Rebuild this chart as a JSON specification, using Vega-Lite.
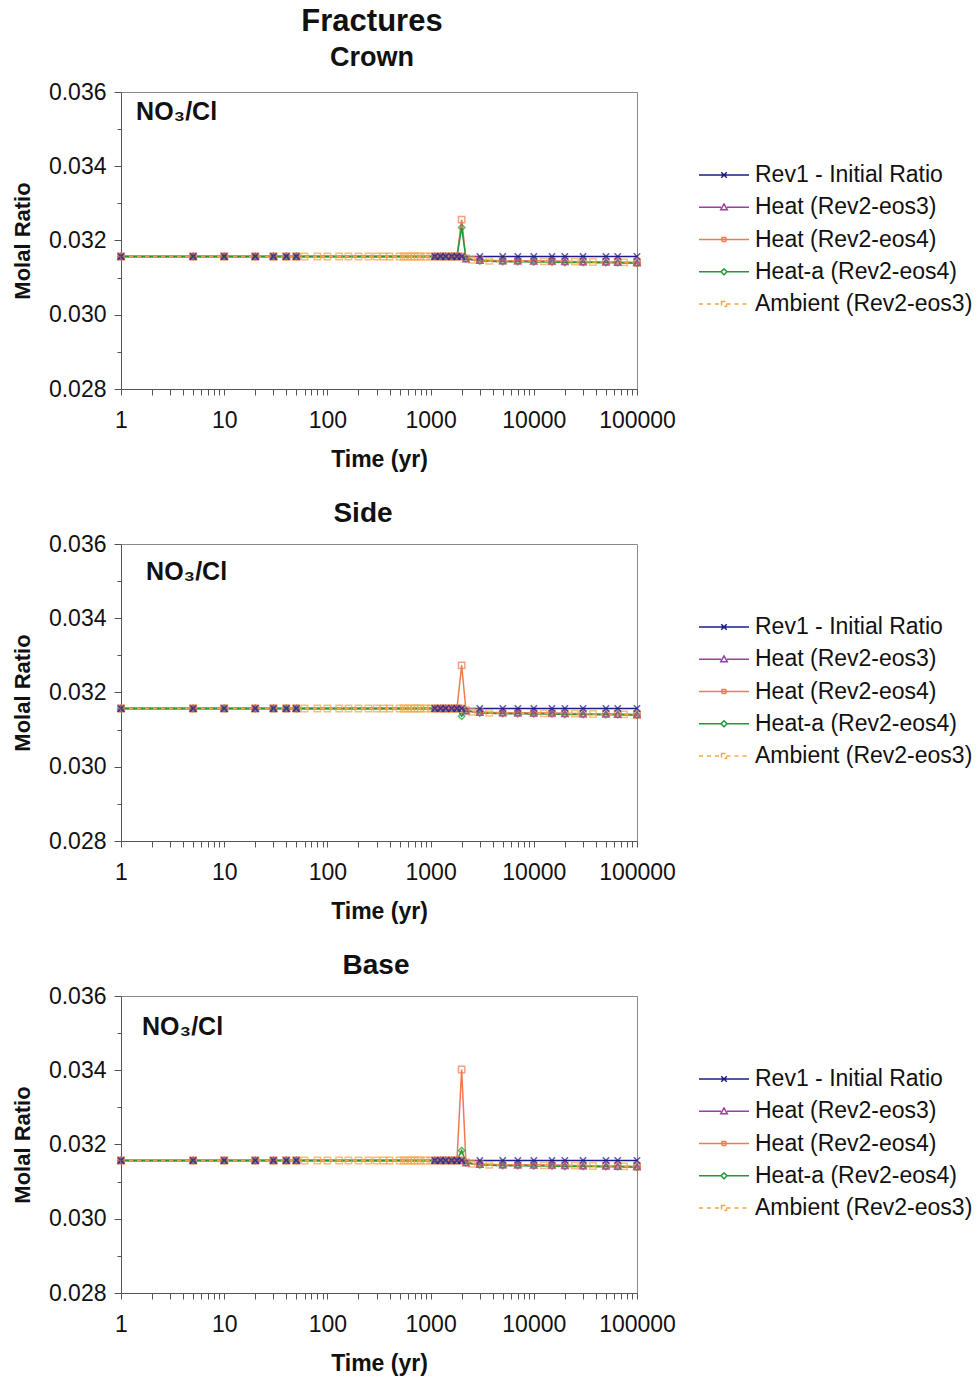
{
"$schema": "https://vega.github.io/schema/vega-lite/v6.json",
"background": "white",
"padding": {"left": 10, "top": 5, "right": 0, "bottom": 4},
"config": {
  "font": "Liberation Sans",
  "view": {"stroke": "#8a8a8a", "strokeWidth": 1},
  "axis": {"labelFont": "Liberation Sans", "titleFont": "Liberation Sans", "labelColor": "#111", "titleColor": "#111", "domainColor": "#555", "tickColor": "#555", "titleFontWeight": "bold"},
  "axisX": {"values": [1,2,3,4,5,6,7,8,9,10,20,30,40,50,60,70,80,90,100,200,300,400,500,600,700,800,900,1000,2000,3000,4000,5000,6000,7000,8000,9000,10000,20000,30000,40000,50000,60000,70000,80000,90000,100000],
     "labelExpr": "(datum.value==1||datum.value==10||datum.value==100||datum.value==1000||datum.value==10000||datum.value==100000) ? format(datum.value,'d') : ''",
     "labelOverlap": false, "labelFlush": false, "grid": false, "tickSize": 6, "labelPadding": 14, "titlePadding": 16, "labelFontSize": 23, "titleFontSize": 23},
  "axisY": {"values": [0.028,0.0285,0.029,0.0295,0.03,0.0305,0.031,0.0315,0.032,0.0325,0.033,0.0335,0.034,0.0345,0.035,0.0355,0.036],
     "labelExpr": "round(datum.value*2000) % 4 == 0 ? format(datum.value,'.3f') : ''", "labelOverlap": false,
     "grid": true, "gridColor": "#555", "gridOpacity": {"condition": {"test": "round(datum.value*2000) % 4 == 0", "value": 1}, "value": 0},
     "tickSize": {"condition": {"test": "round(datum.value*2000) % 4 == 0", "value": 7}, "value": 4}, "labelPadding": 8, "titlePadding": 14, "labelFontSize": 23, "titleFontSize": 22},
  "point": {"filled": false, "strokeWidth": 1.5, "size": 40},
  "title": {"font": "Liberation Sans", "fontWeight": "bold", "color": "#111", "subtitleFont": "Liberation Sans", "subtitleFontWeight": "bold", "subtitleColor": "#111", "anchor": "middle"},
  "legend": {"symbolSize": 2500, "clipHeight": 30, "rowPadding": 2.25, "labelFontSize": 23, "labelFont": "Liberation Sans", "labelColor": "#111", "symbolStrokeWidth": 1.5, "labelOffset": 5, "labelLimit": 400}
},
"datasets": {
  "d": [
    {"s":"Rev1 - Initial Ratio","t":1,"v":0.03157},{"s":"Rev1 - Initial Ratio","t":5,"v":0.03157},{"s":"Rev1 - Initial Ratio","t":10,"v":0.03157},{"s":"Rev1 - Initial Ratio","t":20,"v":0.03157},{"s":"Rev1 - Initial Ratio","t":30,"v":0.03157},{"s":"Rev1 - Initial Ratio","t":40,"v":0.03157},{"s":"Rev1 - Initial Ratio","t":50,"v":0.03157},
    {"s":"Rev1 - Initial Ratio","t":1100,"v":0.03157},{"s":"Rev1 - Initial Ratio","t":1250,"v":0.03157},{"s":"Rev1 - Initial Ratio","t":1400,"v":0.03157},{"s":"Rev1 - Initial Ratio","t":1600,"v":0.03157},{"s":"Rev1 - Initial Ratio","t":1800,"v":0.03157},{"s":"Rev1 - Initial Ratio","t":2000,"v":0.03157},
    {"s":"Rev1 - Initial Ratio","t":3000,"v":0.03157},{"s":"Rev1 - Initial Ratio","t":5000,"v":0.03157},{"s":"Rev1 - Initial Ratio","t":7000,"v":0.03157},{"s":"Rev1 - Initial Ratio","t":10000,"v":0.03157},{"s":"Rev1 - Initial Ratio","t":15000,"v":0.03157},{"s":"Rev1 - Initial Ratio","t":20000,"v":0.03157},{"s":"Rev1 - Initial Ratio","t":30000,"v":0.03157},{"s":"Rev1 - Initial Ratio","t":50000,"v":0.03157},{"s":"Rev1 - Initial Ratio","t":65000,"v":0.03157},{"s":"Rev1 - Initial Ratio","t":100000,"v":0.03157},

    {"s":"Heat (Rev2-eos3)","t":1,"v":0.03157},{"s":"Heat (Rev2-eos3)","t":5,"v":0.03157},{"s":"Heat (Rev2-eos3)","t":10,"v":0.03157},{"s":"Heat (Rev2-eos3)","t":20,"v":0.03157},{"s":"Heat (Rev2-eos3)","t":30,"v":0.03157},{"s":"Heat (Rev2-eos3)","t":40,"v":0.03157},{"s":"Heat (Rev2-eos3)","t":50,"v":0.03157},
    {"s":"Heat (Rev2-eos3)","t":1100,"v":0.03157},{"s":"Heat (Rev2-eos3)","t":1250,"v":0.03157},{"s":"Heat (Rev2-eos3)","t":1400,"v":0.03157},{"s":"Heat (Rev2-eos3)","t":1600,"v":0.03157},{"s":"Heat (Rev2-eos3)","t":1800,"v":0.03157},{"s":"Heat (Rev2-eos3)","t":2000,"v":0.03157},
    {"s":"Heat (Rev2-eos3)","t":2200,"v":0.0315},{"s":"Heat (Rev2-eos3)","t":3000,"v":0.03146},{"s":"Heat (Rev2-eos3)","t":5000,"v":0.03145},{"s":"Heat (Rev2-eos3)","t":7000,"v":0.03145},{"s":"Heat (Rev2-eos3)","t":10000,"v":0.03144},{"s":"Heat (Rev2-eos3)","t":15000,"v":0.03144},{"s":"Heat (Rev2-eos3)","t":20000,"v":0.03143},{"s":"Heat (Rev2-eos3)","t":30000,"v":0.03142},{"s":"Heat (Rev2-eos3)","t":50000,"v":0.03142},{"s":"Heat (Rev2-eos3)","t":65000,"v":0.03141},{"s":"Heat (Rev2-eos3)","t":100000,"v":0.0314},

    {"s":"Heat (Rev2-eos4)","t":1,"v":0.03157},{"s":"Heat (Rev2-eos4)","t":5,"v":0.03157},{"s":"Heat (Rev2-eos4)","t":10,"v":0.03157},{"s":"Heat (Rev2-eos4)","t":20,"v":0.03157},{"s":"Heat (Rev2-eos4)","t":30,"v":0.03157},{"s":"Heat (Rev2-eos4)","t":40,"v":0.03157},{"s":"Heat (Rev2-eos4)","t":50,"v":0.03157},
    {"s":"Heat (Rev2-eos4)","t":1100,"v":0.03157},{"s":"Heat (Rev2-eos4)","t":1250,"v":0.03157},{"s":"Heat (Rev2-eos4)","t":1400,"v":0.03157},{"s":"Heat (Rev2-eos4)","t":1600,"v":0.03157},{"s":"Heat (Rev2-eos4)","t":1800,"v":0.03157},
    {"s":"Heat (Rev2-eos4)","t":2000,"v":0.03256,"p":"Crown"},{"s":"Heat (Rev2-eos4)","t":2000,"v":0.03273,"p":"Side"},{"s":"Heat (Rev2-eos4)","t":2000,"v":0.03402,"p":"Base"},
    {"s":"Heat (Rev2-eos4)","t":2200,"v":0.03152},{"s":"Heat (Rev2-eos4)","t":3000,"v":0.03147},{"s":"Heat (Rev2-eos4)","t":5000,"v":0.03146},{"s":"Heat (Rev2-eos4)","t":7000,"v":0.03145},{"s":"Heat (Rev2-eos4)","t":10000,"v":0.03145},{"s":"Heat (Rev2-eos4)","t":15000,"v":0.03144},{"s":"Heat (Rev2-eos4)","t":20000,"v":0.03144},{"s":"Heat (Rev2-eos4)","t":30000,"v":0.03143},{"s":"Heat (Rev2-eos4)","t":50000,"v":0.03142},{"s":"Heat (Rev2-eos4)","t":65000,"v":0.03142},{"s":"Heat (Rev2-eos4)","t":100000,"v":0.03141},

    {"s":"Heat-a (Rev2-eos4)","t":1,"v":0.03157},{"s":"Heat-a (Rev2-eos4)","t":5,"v":0.03157},{"s":"Heat-a (Rev2-eos4)","t":10,"v":0.03157},{"s":"Heat-a (Rev2-eos4)","t":20,"v":0.03157},{"s":"Heat-a (Rev2-eos4)","t":30,"v":0.03157},{"s":"Heat-a (Rev2-eos4)","t":40,"v":0.03157},{"s":"Heat-a (Rev2-eos4)","t":50,"v":0.03157},
    {"s":"Heat-a (Rev2-eos4)","t":1100,"v":0.03157},{"s":"Heat-a (Rev2-eos4)","t":1250,"v":0.03157},{"s":"Heat-a (Rev2-eos4)","t":1400,"v":0.03157},{"s":"Heat-a (Rev2-eos4)","t":1600,"v":0.03157},{"s":"Heat-a (Rev2-eos4)","t":1800,"v":0.03157},
    {"s":"Heat-a (Rev2-eos4)","t":2000,"v":0.03235,"p":"Crown"},{"s":"Heat-a (Rev2-eos4)","t":2000,"v":0.03136,"p":"Side"},{"s":"Heat-a (Rev2-eos4)","t":2000,"v":0.03184,"p":"Base"},
    {"s":"Heat-a (Rev2-eos4)","t":2200,"v":0.03151},{"s":"Heat-a (Rev2-eos4)","t":3000,"v":0.03145},{"s":"Heat-a (Rev2-eos4)","t":5000,"v":0.03143},{"s":"Heat-a (Rev2-eos4)","t":7000,"v":0.03143},{"s":"Heat-a (Rev2-eos4)","t":10000,"v":0.03142},{"s":"Heat-a (Rev2-eos4)","t":15000,"v":0.03142},{"s":"Heat-a (Rev2-eos4)","t":20000,"v":0.03141},{"s":"Heat-a (Rev2-eos4)","t":30000,"v":0.03141},{"s":"Heat-a (Rev2-eos4)","t":50000,"v":0.0314},{"s":"Heat-a (Rev2-eos4)","t":65000,"v":0.0314},{"s":"Heat-a (Rev2-eos4)","t":100000,"v":0.03139},

    {"s":"Ambient (Rev2-eos3)","t":1,"v":0.03157},{"s":"Ambient (Rev2-eos3)","t":5,"v":0.03157},{"s":"Ambient (Rev2-eos3)","t":10,"v":0.03157},{"s":"Ambient (Rev2-eos3)","t":20,"v":0.03157},{"s":"Ambient (Rev2-eos3)","t":30,"v":0.03157},{"s":"Ambient (Rev2-eos3)","t":40,"v":0.03157},{"s":"Ambient (Rev2-eos3)","t":50,"v":0.03157},
    {"s":"Ambient (Rev2-eos3)","t":60,"v":0.03157},{"s":"Ambient (Rev2-eos3)","t":80,"v":0.03157},{"s":"Ambient (Rev2-eos3)","t":100,"v":0.03157},{"s":"Ambient (Rev2-eos3)","t":130,"v":0.03157},{"s":"Ambient (Rev2-eos3)","t":160,"v":0.03157},{"s":"Ambient (Rev2-eos3)","t":200,"v":0.03157},{"s":"Ambient (Rev2-eos3)","t":250,"v":0.03157},{"s":"Ambient (Rev2-eos3)","t":300,"v":0.03157},{"s":"Ambient (Rev2-eos3)","t":350,"v":0.03157},{"s":"Ambient (Rev2-eos3)","t":400,"v":0.03157},
    {"s":"Ambient (Rev2-eos3)","t":500,"v":0.03157},{"s":"Ambient (Rev2-eos3)","t":550,"v":0.03157},{"s":"Ambient (Rev2-eos3)","t":600,"v":0.03157},{"s":"Ambient (Rev2-eos3)","t":650,"v":0.03157},{"s":"Ambient (Rev2-eos3)","t":700,"v":0.03157},{"s":"Ambient (Rev2-eos3)","t":750,"v":0.03157},{"s":"Ambient (Rev2-eos3)","t":800,"v":0.03157},{"s":"Ambient (Rev2-eos3)","t":900,"v":0.03157},{"s":"Ambient (Rev2-eos3)","t":1000,"v":0.03157},
    {"s":"Ambient (Rev2-eos3)","t":1200,"v":0.03157},{"s":"Ambient (Rev2-eos3)","t":1400,"v":0.03157},{"s":"Ambient (Rev2-eos3)","t":1600,"v":0.03157},{"s":"Ambient (Rev2-eos3)","t":1800,"v":0.03157},{"s":"Ambient (Rev2-eos3)","t":2000,"v":0.03157},
    {"s":"Ambient (Rev2-eos3)","t":2500,"v":0.03148},{"s":"Ambient (Rev2-eos3)","t":3700,"v":0.03145},{"s":"Ambient (Rev2-eos3)","t":12500,"v":0.03144},{"s":"Ambient (Rev2-eos3)","t":25000,"v":0.03143},{"s":"Ambient (Rev2-eos3)","t":37500,"v":0.03142},{"s":"Ambient (Rev2-eos3)","t":75000,"v":0.03141},{"s":"Ambient (Rev2-eos3)","t":100000,"v":0.0314}
  ],
  "notes": [
    {"p":"Crown","t":1.4,"v":0.03546,"label":"NO₃/Cl"},
    {"p":"Side","t":1.75,"v":0.03525,"label":"NO₃/Cl"},
    {"p":"Base","t":1.6,"v":0.03517,"label":"NO₃/Cl"}
  ]
},
"spacing": 27,
"resolve": {"scale": {"color": "independent", "strokeDash": "independent"}, "legend": {"color": "independent"}},
"vconcat": [
 {
  "width": 516, "height": 297,
  "title": {"text": "Fractures", "subtitle": "Crown", "fontSize": 31, "subtitleFontSize": 27, "subtitlePadding": 7, "offset": 9, "dx": -7},
  "layer": [
   {"data": {"name": "d"}, "transform": [{"filter": "!datum.p || datum.p === 'Crown'"}],
    "mark": {"type": "line", "strokeWidth": 1.5},
    "encoding": {
     "x": {"field": "t", "type": "quantitative", "scale": {"type": "log", "domain": [1, 100000], "nice": false}, "axis": {"title": "Time (yr)"}},
     "y": {"field": "v", "type": "quantitative", "scale": {"domain": [0.028, 0.036], "nice": false, "zero": false}, "axis": {"title": "Molal Ratio"}},
     "color": {"field": "s", "type": "nominal", "scale": {"domain": ["Rev1 - Initial Ratio","Heat (Rev2-eos3)","Heat (Rev2-eos4)","Heat-a (Rev2-eos4)","Ambient (Rev2-eos3)"], "range": ["#1c1c8a","#a03aa0","#f07a50","#1f9a3a","#f5a545"]},
       "legend": {"title": null, "orient": "none", "legendX": 577, "legendY": 68,
         "encode": {"symbols": {"update": {"fill": {"value": "transparent"},
           "shape": {"signal": "datum.value === 'Rev1 - Initial Ratio' ? 'M-1,0L1,0M-0.11,-0.11L0.11,0.11M-0.11,0.11L0.11,-0.11' : datum.value === 'Heat (Rev2-eos3)' ? 'M-1,0L-0.12,0M0.12,0L1,0M0,-0.13L0.13,0.1L-0.13,0.1Z' : datum.value === 'Heat (Rev2-eos4)' ? 'M-1,0L1,0M-0.08,-0.08L0.08,-0.08L0.08,0.08L-0.08,0.08Z' : datum.value === 'Heat-a (Rev2-eos4)' ? 'M-1,0L-0.12,0M0.12,0L1,0M0,-0.12L0.12,0L0,0.12L-0.12,0Z' : 'M-1,0L-0.1,0M0.1,0L1,0M-0.1,-0.1L0.1,-0.1L0.1,0.1L-0.1,0.1Z'"},
           "strokeDash": {"signal": "datum.value === 'Ambient (Rev2-eos3)' ? [4,4] : [1,0]"}}}}}},
     "strokeDash": {"field": "s", "type": "nominal", "scale": {"domain": ["Rev1 - Initial Ratio","Heat (Rev2-eos3)","Heat (Rev2-eos4)","Heat-a (Rev2-eos4)","Ambient (Rev2-eos3)"], "range": [[1,0],[1,0],[1,0],[1,0],[4,4]]}, "legend": null}
    }},
   {"data": {"name": "d"}, "transform": [{"filter": "datum.s === 'Ambient (Rev2-eos3)'"}], "mark": {"type": "point", "shape": "square", "color": "#f5a545"}, "encoding": {"x": {"field": "t", "type": "quantitative"}, "y": {"field": "v", "type": "quantitative"}}},
   {"data": {"name": "d"}, "transform": [{"filter": "datum.s === 'Heat-a (Rev2-eos4)' && (!datum.p || datum.p === 'Crown')"}], "mark": {"type": "point", "shape": "diamond", "color": "#1f9a3a"}, "encoding": {"x": {"field": "t", "type": "quantitative"}, "y": {"field": "v", "type": "quantitative"}}},
   {"data": {"name": "d"}, "transform": [{"filter": "datum.s === 'Heat (Rev2-eos4)' && (!datum.p || datum.p === 'Crown')"}], "mark": {"type": "point", "shape": "square", "color": "#f07a50"}, "encoding": {"x": {"field": "t", "type": "quantitative"}, "y": {"field": "v", "type": "quantitative"}}},
   {"data": {"name": "d"}, "transform": [{"filter": "datum.s === 'Heat (Rev2-eos3)'"}], "mark": {"type": "point", "shape": "triangle-up", "color": "#a03aa0"}, "encoding": {"x": {"field": "t", "type": "quantitative"}, "y": {"field": "v", "type": "quantitative"}}},
   {"data": {"name": "d"}, "transform": [{"filter": "datum.s === 'Rev1 - Initial Ratio'"}], "mark": {"type": "point", "shape": "M-1,-1L1,1M-1,1L1,-1", "color": "#1c1c8a"}, "encoding": {"x": {"field": "t", "type": "quantitative"}, "y": {"field": "v", "type": "quantitative"}}},
   {"data": {"name": "notes"}, "transform": [{"filter": "datum.p === 'Crown'"}],
    "mark": {"type": "text", "align": "left", "baseline": "middle", "fontSize": 25, "fontWeight": "bold", "font": "Liberation Sans", "color": "#111"},
    "encoding": {"x": {"field": "t", "type": "quantitative"}, "y": {"field": "v", "type": "quantitative"}, "text": {"field": "label"}}}
  ]
 },
 {
  "width": 516, "height": 297,
  "title": {"text": "Side", "fontSize": 28, "offset": 5, "dx": -16},
  "layer": [
   {"data": {"name": "d"}, "transform": [{"filter": "!datum.p || datum.p === 'Side'"}],
    "mark": {"type": "line", "strokeWidth": 1.5},
    "encoding": {
     "x": {"field": "t", "type": "quantitative", "scale": {"type": "log", "domain": [1, 100000], "nice": false}, "axis": {"title": "Time (yr)"}},
     "y": {"field": "v", "type": "quantitative", "scale": {"domain": [0.028, 0.036], "nice": false, "zero": false}, "axis": {"title": "Molal Ratio"}},
     "color": {"field": "s", "type": "nominal", "scale": {"domain": ["Rev1 - Initial Ratio","Heat (Rev2-eos3)","Heat (Rev2-eos4)","Heat-a (Rev2-eos4)","Ambient (Rev2-eos3)"], "range": ["#1c1c8a","#a03aa0","#f07a50","#1f9a3a","#f5a545"]},
       "legend": {"title": null, "orient": "none", "legendX": 577, "legendY": 68,
         "encode": {"symbols": {"update": {"fill": {"value": "transparent"},
           "shape": {"signal": "datum.value === 'Rev1 - Initial Ratio' ? 'M-1,0L1,0M-0.11,-0.11L0.11,0.11M-0.11,0.11L0.11,-0.11' : datum.value === 'Heat (Rev2-eos3)' ? 'M-1,0L-0.12,0M0.12,0L1,0M0,-0.13L0.13,0.1L-0.13,0.1Z' : datum.value === 'Heat (Rev2-eos4)' ? 'M-1,0L1,0M-0.08,-0.08L0.08,-0.08L0.08,0.08L-0.08,0.08Z' : datum.value === 'Heat-a (Rev2-eos4)' ? 'M-1,0L-0.12,0M0.12,0L1,0M0,-0.12L0.12,0L0,0.12L-0.12,0Z' : 'M-1,0L-0.1,0M0.1,0L1,0M-0.1,-0.1L0.1,-0.1L0.1,0.1L-0.1,0.1Z'"},
           "strokeDash": {"signal": "datum.value === 'Ambient (Rev2-eos3)' ? [4,4] : [1,0]"}}}}}},
     "strokeDash": {"field": "s", "type": "nominal", "scale": {"domain": ["Rev1 - Initial Ratio","Heat (Rev2-eos3)","Heat (Rev2-eos4)","Heat-a (Rev2-eos4)","Ambient (Rev2-eos3)"], "range": [[1,0],[1,0],[1,0],[1,0],[4,4]]}, "legend": null}
    }},
   {"data": {"name": "d"}, "transform": [{"filter": "datum.s === 'Ambient (Rev2-eos3)'"}], "mark": {"type": "point", "shape": "square", "color": "#f5a545"}, "encoding": {"x": {"field": "t", "type": "quantitative"}, "y": {"field": "v", "type": "quantitative"}}},
   {"data": {"name": "d"}, "transform": [{"filter": "datum.s === 'Heat-a (Rev2-eos4)' && (!datum.p || datum.p === 'Side')"}], "mark": {"type": "point", "shape": "diamond", "color": "#1f9a3a"}, "encoding": {"x": {"field": "t", "type": "quantitative"}, "y": {"field": "v", "type": "quantitative"}}},
   {"data": {"name": "d"}, "transform": [{"filter": "datum.s === 'Heat (Rev2-eos4)' && (!datum.p || datum.p === 'Side')"}], "mark": {"type": "point", "shape": "square", "color": "#f07a50"}, "encoding": {"x": {"field": "t", "type": "quantitative"}, "y": {"field": "v", "type": "quantitative"}}},
   {"data": {"name": "d"}, "transform": [{"filter": "datum.s === 'Heat (Rev2-eos3)'"}], "mark": {"type": "point", "shape": "triangle-up", "color": "#a03aa0"}, "encoding": {"x": {"field": "t", "type": "quantitative"}, "y": {"field": "v", "type": "quantitative"}}},
   {"data": {"name": "d"}, "transform": [{"filter": "datum.s === 'Rev1 - Initial Ratio'"}], "mark": {"type": "point", "shape": "M-1,-1L1,1M-1,1L1,-1", "color": "#1c1c8a"}, "encoding": {"x": {"field": "t", "type": "quantitative"}, "y": {"field": "v", "type": "quantitative"}}},
   {"data": {"name": "notes"}, "transform": [{"filter": "datum.p === 'Side'"}],
    "mark": {"type": "text", "align": "left", "baseline": "middle", "fontSize": 25, "fontWeight": "bold", "font": "Liberation Sans", "color": "#111"},
    "encoding": {"x": {"field": "t", "type": "quantitative"}, "y": {"field": "v", "type": "quantitative"}, "text": {"field": "label"}}}
  ]
 },
 {
  "width": 516, "height": 297,
  "title": {"text": "Base", "fontSize": 28, "offset": 5, "dx": -3},
  "layer": [
   {"data": {"name": "d"}, "transform": [{"filter": "!datum.p || datum.p === 'Base'"}],
    "mark": {"type": "line", "strokeWidth": 1.5},
    "encoding": {
     "x": {"field": "t", "type": "quantitative", "scale": {"type": "log", "domain": [1, 100000], "nice": false}, "axis": {"title": "Time (yr)"}},
     "y": {"field": "v", "type": "quantitative", "scale": {"domain": [0.028, 0.036], "nice": false, "zero": false}, "axis": {"title": "Molal Ratio"}},
     "color": {"field": "s", "type": "nominal", "scale": {"domain": ["Rev1 - Initial Ratio","Heat (Rev2-eos3)","Heat (Rev2-eos4)","Heat-a (Rev2-eos4)","Ambient (Rev2-eos3)"], "range": ["#1c1c8a","#a03aa0","#f07a50","#1f9a3a","#f5a545"]},
       "legend": {"title": null, "orient": "none", "legendX": 577, "legendY": 68,
         "encode": {"symbols": {"update": {"fill": {"value": "transparent"},
           "shape": {"signal": "datum.value === 'Rev1 - Initial Ratio' ? 'M-1,0L1,0M-0.11,-0.11L0.11,0.11M-0.11,0.11L0.11,-0.11' : datum.value === 'Heat (Rev2-eos3)' ? 'M-1,0L-0.12,0M0.12,0L1,0M0,-0.13L0.13,0.1L-0.13,0.1Z' : datum.value === 'Heat (Rev2-eos4)' ? 'M-1,0L1,0M-0.08,-0.08L0.08,-0.08L0.08,0.08L-0.08,0.08Z' : datum.value === 'Heat-a (Rev2-eos4)' ? 'M-1,0L-0.12,0M0.12,0L1,0M0,-0.12L0.12,0L0,0.12L-0.12,0Z' : 'M-1,0L-0.1,0M0.1,0L1,0M-0.1,-0.1L0.1,-0.1L0.1,0.1L-0.1,0.1Z'"},
           "strokeDash": {"signal": "datum.value === 'Ambient (Rev2-eos3)' ? [4,4] : [1,0]"}}}}}},
     "strokeDash": {"field": "s", "type": "nominal", "scale": {"domain": ["Rev1 - Initial Ratio","Heat (Rev2-eos3)","Heat (Rev2-eos4)","Heat-a (Rev2-eos4)","Ambient (Rev2-eos3)"], "range": [[1,0],[1,0],[1,0],[1,0],[4,4]]}, "legend": null}
    }},
   {"data": {"name": "d"}, "transform": [{"filter": "datum.s === 'Ambient (Rev2-eos3)'"}], "mark": {"type": "point", "shape": "square", "color": "#f5a545"}, "encoding": {"x": {"field": "t", "type": "quantitative"}, "y": {"field": "v", "type": "quantitative"}}},
   {"data": {"name": "d"}, "transform": [{"filter": "datum.s === 'Heat-a (Rev2-eos4)' && (!datum.p || datum.p === 'Base')"}], "mark": {"type": "point", "shape": "diamond", "color": "#1f9a3a"}, "encoding": {"x": {"field": "t", "type": "quantitative"}, "y": {"field": "v", "type": "quantitative"}}},
   {"data": {"name": "d"}, "transform": [{"filter": "datum.s === 'Heat (Rev2-eos4)' && (!datum.p || datum.p === 'Base')"}], "mark": {"type": "point", "shape": "square", "color": "#f07a50"}, "encoding": {"x": {"field": "t", "type": "quantitative"}, "y": {"field": "v", "type": "quantitative"}}},
   {"data": {"name": "d"}, "transform": [{"filter": "datum.s === 'Heat (Rev2-eos3)'"}], "mark": {"type": "point", "shape": "triangle-up", "color": "#a03aa0"}, "encoding": {"x": {"field": "t", "type": "quantitative"}, "y": {"field": "v", "type": "quantitative"}}},
   {"data": {"name": "d"}, "transform": [{"filter": "datum.s === 'Rev1 - Initial Ratio'"}], "mark": {"type": "point", "shape": "M-1,-1L1,1M-1,1L1,-1", "color": "#1c1c8a"}, "encoding": {"x": {"field": "t", "type": "quantitative"}, "y": {"field": "v", "type": "quantitative"}}},
   {"data": {"name": "notes"}, "transform": [{"filter": "datum.p === 'Base'"}],
    "mark": {"type": "text", "align": "left", "baseline": "middle", "fontSize": 25, "fontWeight": "bold", "font": "Liberation Sans", "color": "#111"},
    "encoding": {"x": {"field": "t", "type": "quantitative"}, "y": {"field": "v", "type": "quantitative"}, "text": {"field": "label"}}}
  ]
 }
]
}
